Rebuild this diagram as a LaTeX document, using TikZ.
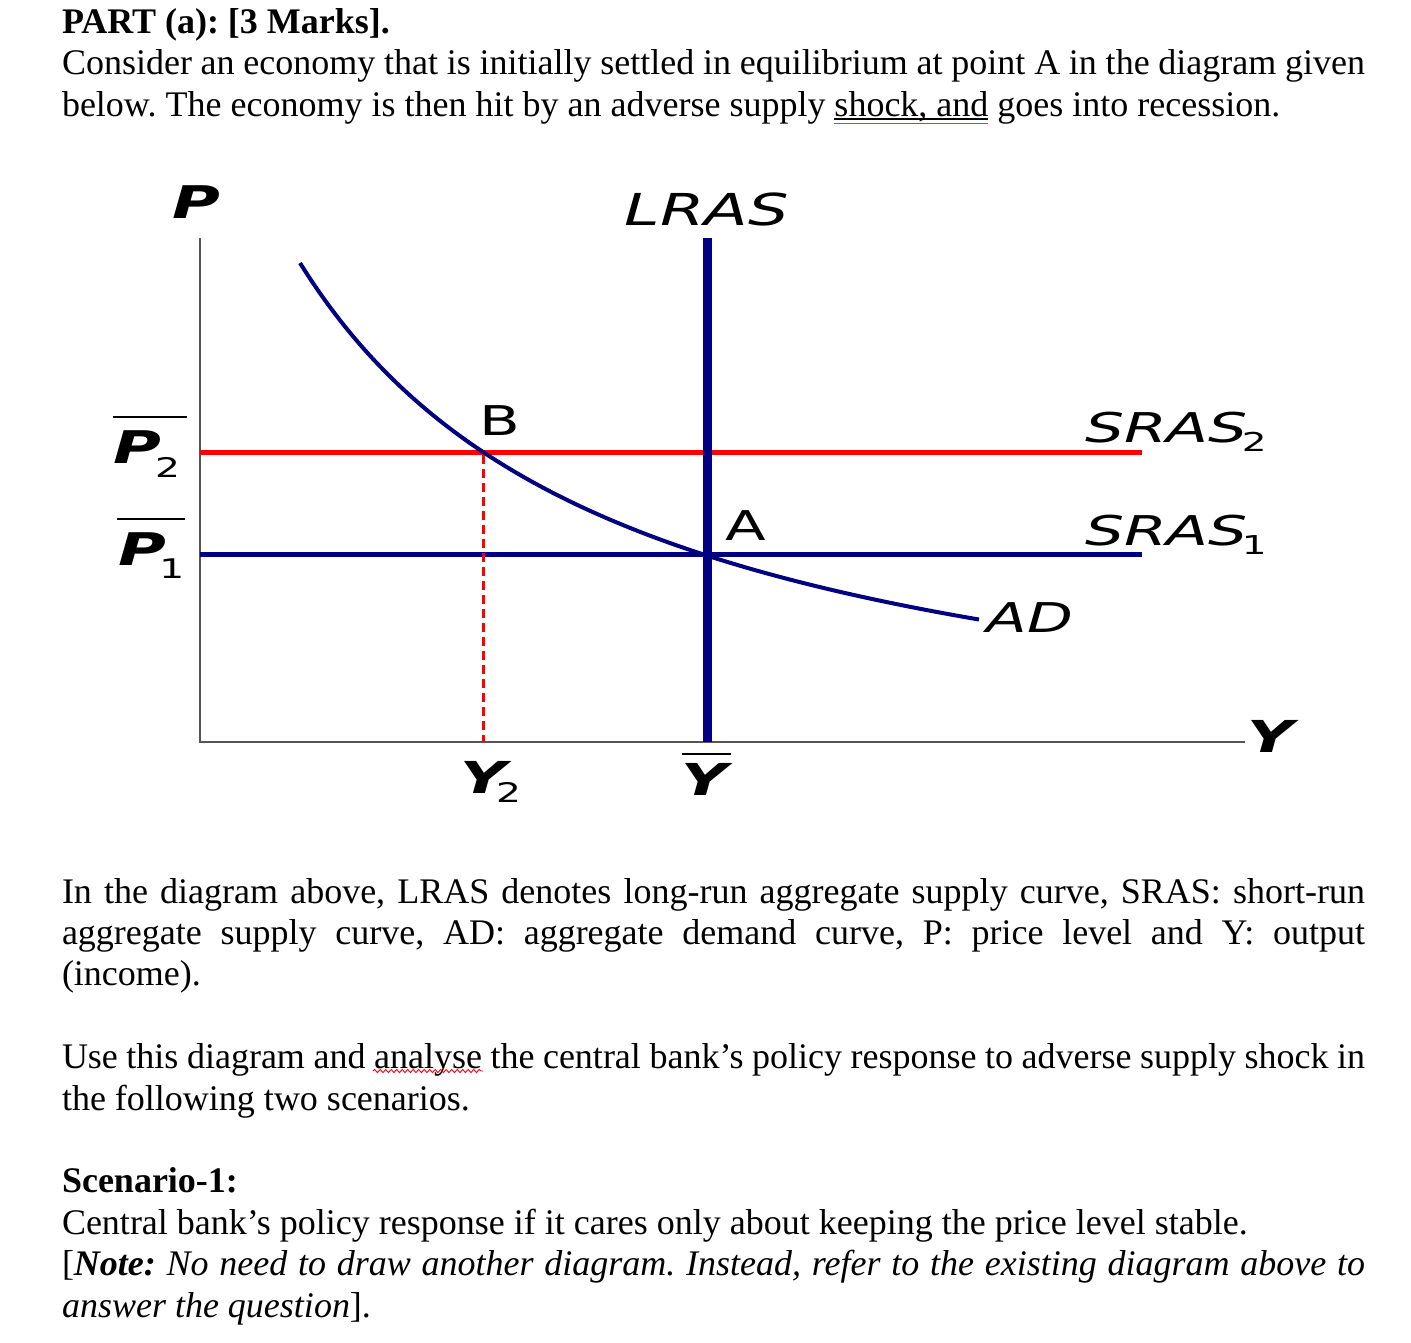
\documentclass[tikz,border=0pt]{standalone}
\usepackage{fontspec}
\usepackage{graphicx}
\setmainfont{Liberation Serif}
\newfontfamily\dfont{DejaVu Sans}
\usetikzlibrary{decorations.pathmorphing}
\definecolor{navy}{RGB}{0,0,128}
\definecolor{axisgray}{RGB}{85,85,85}
\definecolor{gblue}{RGB}{50,110,230}
\definecolor{sred}{RGB}{255,0,0}
\newcommand{\wide}[1]{\scalebox{1.45}[1]{#1}}
\newcommand{\dfs}[1]{\dfont\fontsize{#1}{#1}\selectfont}
\newcommand{\subfs}[1]{\mdseries\upshape\fontsize{#1}{#1}\selectfont}
\frenchspacing
\begin{document}
\begin{tikzpicture}[x=1pt,y=-1pt,
  txt/.style={inner sep=0pt, outer sep=0pt, anchor=base west, font=\fontsize{36}{41.4}\selectfont\frenchspacing},
  lbl/.style={inner sep=0pt, outer sep=0pt, text=black},
  axisline/.style={draw=axisgray, line width=1.8pt},
  curveline/.style={draw=navy, line width=4pt},
  srasline/.style={line width=5pt},
  overl/.style={draw=black, line width=2.2pt}]
\useasboundingbox (0,0) rectangle (1411,1342);

% ---------- text above ----------
\node[txt] (l1) at (62,33) {\textbf{PART (a): [3 Marks].}};
\node[txt] (l2) at (62,74.5) {\makebox[1303pt][s]{Consider an economy that is initially settled in equilibrium at point A in the diagram given}};
\node[txt] (l3a) at (62,116) {below. The economy is then hit by an adverse supply};
\node[txt] (l3b) at ([xshift=9pt]l3a.base east) {shock, and};
\node[txt] (l3c) at ([xshift=9pt]l3b.base east) {goes into recession.};
\draw[line width=1.2pt] ([yshift=-3pt]l3b.base west) -- ([yshift=-3pt]l3b.base east);
\draw[draw=gblue, line width=1.6pt] ([yshift=-7.5pt]l3b.base west) -- ([yshift=-7.5pt]l3b.base east);

% ---------- diagram ----------
\coordinate (O) at (200,742);
\coordinate (ytop) at (200,238);
\coordinate (xend) at (1245,742);
\coordinate (lrastop) at (707,238);
\coordinate (lrasbot) at (707,742);
\coordinate (s2l) at (200,452);
\coordinate (s2r) at (1142,452);
\coordinate (s1l) at (200,554.5);
\coordinate (s1r) at (1142,554.5);
\coordinate (Bpt) at (483,452);
\coordinate (Y2pt) at (483,742);

\draw[axisline] (ytop) -- ([yshift=-1pt]O);
\draw[axisline] ([xshift=-1pt]O) -- (xend);

\draw[srasline, draw=sred] (s2l) -- (s2r);
\draw[srasline, draw=navy] (s1l) -- (s1r);
\draw[draw=sred, line width=3pt, dash pattern=on 9pt off 5pt] ([yshift=-3pt]Bpt) -- (Y2pt);
\draw[curveline] plot[domain=300:979, samples=120] (\x, {742 - 1748.38/((\x+30)/100) + 50.8});
\draw[draw=navy, line width=9pt] (lrastop) -- (lrasbot);

% labels
\node[lbl, anchor=base] (plab) at (196,218) {\wide{\dfs{45}\bfseries\itshape P}};
\node[lbl, anchor=base] (ylab) at (1271,752) {\wide{\dfs{44}\bfseries\itshape Y}};
\node[lbl, anchor=base] (lras) at (707,225) {\wide{\dfs{44}\itshape LRAS}};
\node[lbl, anchor=base] (blab) at (500,435) {\wide{\dfs{41}B}};
\node[lbl, anchor=base] (alab) at (746,540) {\wide{\dfs{41}A}};
\node[lbl, anchor=base west] (sras2) at (1085,442) {\scalebox{1.5}[1]{\dfs{41}\itshape SRAS\kern-4pt\raisebox{-9pt}{\subfs{26}2}}};
\node[lbl, anchor=base west] (sras1) at (1085,545) {\scalebox{1.5}[1]{\dfs{41}\itshape SRAS\kern-4pt\raisebox{-9pt}{\subfs{26}1}}};
\node[lbl, anchor=base] (adlab) at (1030,632) {\wide{\dfs{41}\itshape AD}};
\node[lbl, anchor=base west] (p2lab) at (113,463) {\wide{\dfs{45}\bfseries\itshape P\kern-4pt\raisebox{-14pt}{\subfs{27}2}}};
\node[lbl, anchor=base west] (p1lab) at (118,565) {\wide{\dfs{45}\bfseries\itshape P\kern-4.5pt\raisebox{-13pt}{\subfs{27}1}}};
\node[lbl, anchor=base west] (y2lab) at (460,793) {\wide{\dfs{44}\bfseries\itshape Y\kern-7pt\raisebox{-9pt}{\subfs{27}2}}};
\node[lbl, anchor=base] (ybarlab) at (705,795) {\wide{\dfs{44}\bfseries\itshape Y}};
\draw[overl] (113,417) -- (187,417);
\draw[overl] (117,519) -- (185,519);
\draw[overl] (682,754) -- (731,754);

% ---------- text below ----------
\node[txt] (l4) at (62,903) {\makebox[1303pt][s]{In the diagram above, LRAS denotes long-run aggregate supply curve, SRAS: short-run}};
\node[txt] (l5) at (62,944.4) {\makebox[1303pt][s]{aggregate supply curve, AD: aggregate demand curve, P: price level and Y: output}};
\node[txt] (l6) at (62,985.8) {(income).};
\node[txt] (l7) at (62,1068.6) {\makebox[1303pt][s]{Use this diagram and analyse the central bank’s policy response to adverse supply shock in}};
\node[txt] (l8) at (62,1110) {the following two scenarios.};
\draw[draw=sred, line width=0.9pt, decorate, decoration={snake, amplitude=1.6pt, segment length=5.5pt}] (373,1071) -- (483,1071);
\node[txt] (l9) at (62,1192.8) {\textbf{Scenario-1:}};
\node[txt] (l10) at (62,1234.2) {Central bank’s policy response if it cares only about keeping the price level stable.};
\node[txt] (l11) at (62,1275.6) {\makebox[1303pt][s]{[\textbf{\textit{Note:}} \textit{No need to draw another diagram. Instead, refer to the existing diagram above to}}};
\node[txt] (l12) at (62,1317) {\textit{answer the question}].};
\end{tikzpicture}
\end{document}
